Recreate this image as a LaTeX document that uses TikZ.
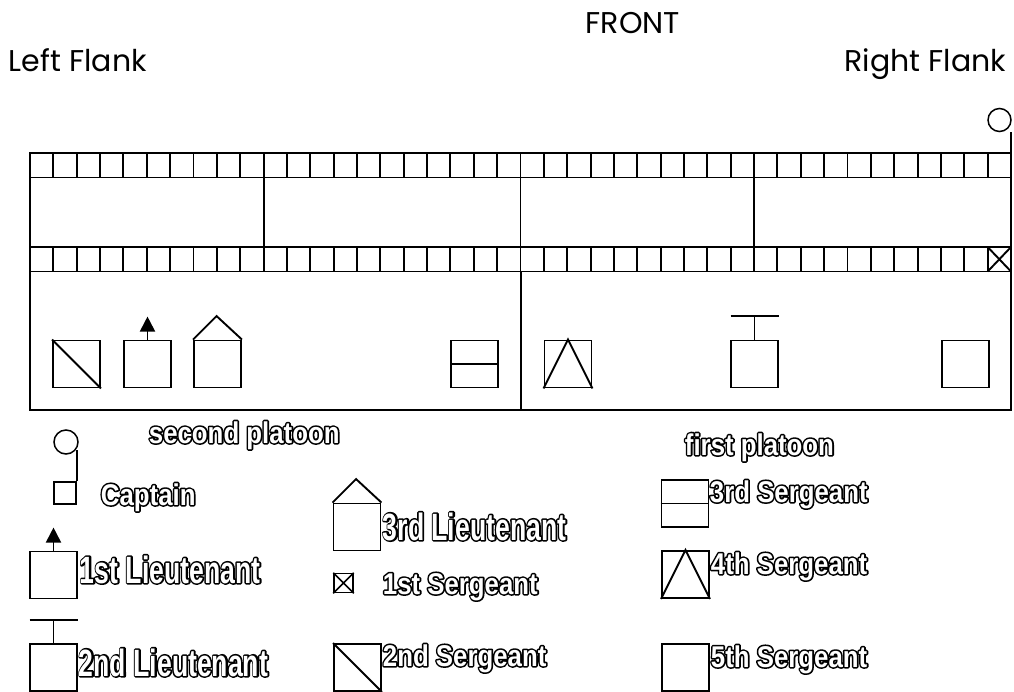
\documentclass[tikz,border=0pt]{standalone}
\usepackage{fontspec}
\setmainfont{Poppins}
\newfontfamily\rankfont[FakeStretch=0.86]{Liberation Sans}
\newfontfamily\tallfont[FakeStretch=0.70]{Liberation Sans}
\usetikzlibrary{arrows.meta, positioning}

% outlined lettering: black stroke behind, white letters on top
\newcommand{\hollow}[1]{\rlap{\special{pdf:literal direct 1 Tr 3.2 w 1 j 0 G}#1\special{pdf:literal direct 0 Tr}}{\color{white}#1}}
\def\cw{23.357}

\begin{document}
\begin{tikzpicture}[
    x=1pt, y=-1pt,
    line width=1.9pt,
    >={Triangle[length=15pt, width=15pt]},
    rankbox/.style={draw, line width=1.9pt, minimum size=47pt, inner sep=0pt},
    smallbox/.style={draw, line width=1.5pt, minimum size=#1, inner sep=0pt},
    ranklabel/.style={anchor=base west, inner sep=0pt,
        font=\rankfont\bfseries\fontsize{30}{30}\selectfont},
    talllabel/.style={anchor=base west, inner sep=0pt,
        font=\tallfont\bfseries\fontsize{38}{38}\selectfont},
    flank/.style={inner sep=0pt, font=\fontsize{30}{30}\selectfont},
]
\useasboundingbox (0,0) rectangle (1014,691);

% Headings
\node[flank, anchor=base] (front) at (633,33) {FRONT};
\node[flank, anchor=base west] (leftflank) at (8,71) {Left Flank};
\node[flank, anchor=base east] (rightflank) at (1007,71) {Right Flank};

% Front rank, files and rear rank
\foreach \r in {153, 247} {
    \draw (30,\r) rectangle (1011,\r+24.5);
    \foreach \i in {1,...,41}
        \draw ({30+\i*\cw},\r) -- ++(0,24.5);
}
\draw (30,177.5) rectangle (1011,247);
\foreach \i in {10, 21, 31}
    \draw ({30+\i*\cw},177.5) -- ++(0,69.5);

% Guide on the right flank
\coordinate (corner) at (1011,153);
\node[draw, circle, minimum size=23pt, inner sep=0pt, line width=1.5pt] (guide) at (999.5,120) {};
\draw (corner) -- (corner |- guide.south);
\draw ({30+41*\cw},247) -- (1011,271.5) (1011,247) -- ({30+41*\cw},271.5);

% Officers and sergeants behind the ranks
\draw (30,271.5) rectangle (1011,410);
\draw (521,271.5) -- (521,410);

\node[rankbox] (sgt2) at (76.5,364) {};
\draw (sgt2.north west) -- (sgt2.south east);
\node[rankbox] (lt1) at (147.5,364) {};
\draw[->] (lt1.north) -- ++(0,-23);
\node[rankbox] (lt3) at (217.5,364) {};
\draw (lt3.north west) -- ++(23.5,-23.5) -- (lt3.north east);
\node[rankbox] (sgt3) at (474.5,364) {};
\draw (sgt3.west) -- (sgt3.east);

\node[rankbox] (sgt4) at (568,364) {};
\draw (sgt4.south west) -- (sgt4.north) -- (sgt4.south east);
\node[rankbox] (lt2) at (754.5,364) {};
\draw (lt2.north) -- ++(0,-23.5) coordinate (lt2top);
\draw ([xshift=-24pt]lt2top) -- ([xshift=24pt]lt2top);
\node[rankbox] (sgt5) at (965.5,364) {};

% Legend
\node[draw, circle, minimum size=24pt, inner sep=0pt, line width=1.5pt] (keycircle) at (66,442) {};
\node[smallbox=22pt] (keycapt) at (65,493) {};
\draw[line width=1.5pt] (keycapt.north east) -- ++(0,-31);
\node[ranklabel] (secplt) at (148,443) {\hollow{second platoon}};
\node[ranklabel] (captlbl) at (100,505) {\hollow{Captain}};

\node[rankbox] (keylt1) at (53.5,575) {};
\draw[->] (keylt1.north) -- ++(0,-23);
\node[talllabel] (lt1lbl) at (79,583) {\hollow{1st Lieutenant}};

\node[rankbox] (keylt2) at (53.5,667.5) {};
\draw (keylt2.north) -- ++(0,-23.5) coordinate (keylt2top);
\draw ([xshift=-24pt]keylt2top) -- ([xshift=24pt]keylt2top);
\node[talllabel] (lt2lbl) at (78,676) {\hollow{2nd Lieutenant}};

\node[rankbox] (keylt3) at (357,527) {};
\draw (keylt3.north west) -- ++(23.5,-23.5) -- (keylt3.north east);
\node[talllabel] (lt3lbl) at (382,540) {\hollow{3rd Lieutenant}};

\node[smallbox=19pt] (keysgt1) at (343.5,583) {};
\draw[line width=1.5pt] (keysgt1.north west) -- (keysgt1.south east)
    (keysgt1.north east) -- (keysgt1.south west);
\node[ranklabel] (sgt1lbl) at (382,594) {\hollow{1st Sergeant}};

\node[rankbox] (keysgt2) at (357.5,667.5) {};
\draw (keysgt2.north west) -- (keysgt2.south east);
\node[ranklabel] (sgt2lbl) at (382,666) {\hollow{2nd Sergeant}};

\node[ranklabel] (firstplt) at (684,455) {\hollow{first platoon}};
\node[rankbox] (keysgt3) at (685,503.5) {};
\draw (keysgt3.west) -- (keysgt3.east);
\node[ranklabel] (sgt3lbl) at (709,502) {\hollow{3rd Sergeant}};

\node[rankbox] (keysgt4) at (685.5,574.5) {};
\draw (keysgt4.south west) -- (keysgt4.north) -- (keysgt4.south east);
\node[ranklabel] (sgt4lbl) at (710,574) {\hollow{4th Sergeant}};

\node[rankbox] (keysgt5) at (685.5,667.5) {};
\node[ranklabel] (sgt5lbl) at (710,667) {\hollow{5th Sergeant}};

\end{tikzpicture}
\end{document}
